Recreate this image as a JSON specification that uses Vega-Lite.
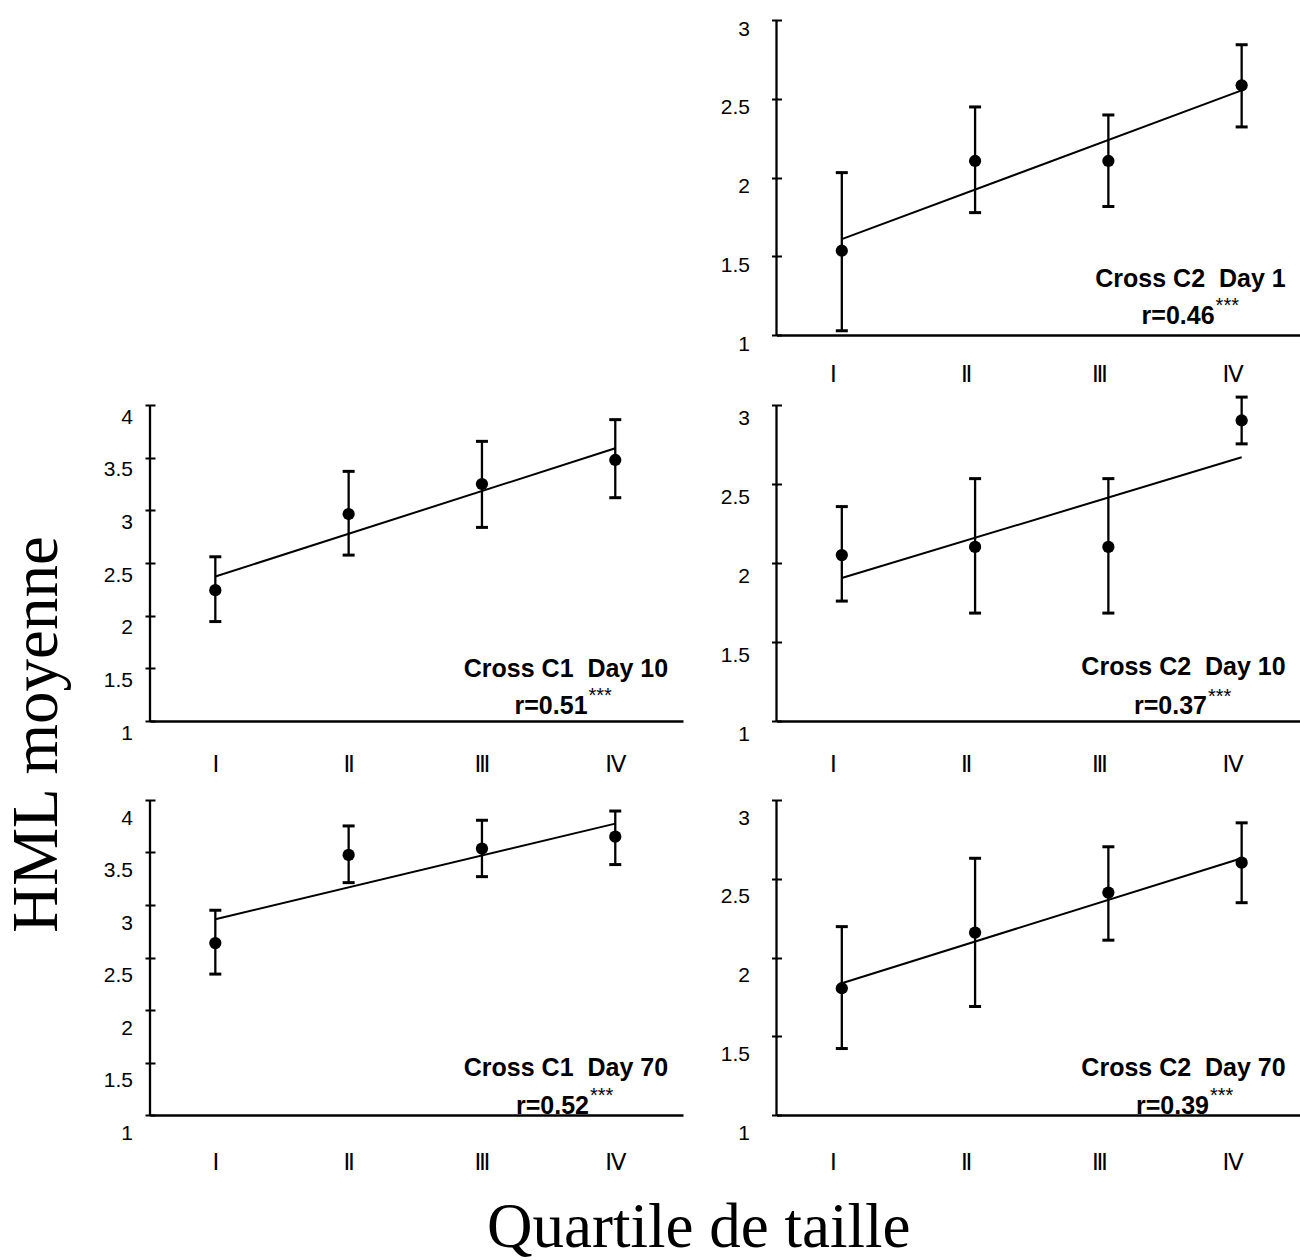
{
  "$schema": "https://vega.github.io/schema/vega-lite/v6.json",
  "padding": {"left": 4, "top": 18, "right": 0, "bottom": 0},
  "config": {
    "view": {"stroke": null},
    "font": "Liberation Sans",
    "axis": {"grid": false, "labelColor": "black", "domainColor": "black", "tickColor": "black"},
    "tick": {"opacity": 1}
  },
  "datasets": {
    "means": [
      {"panel": "C2 D1", "q": 1, "mean": 1.535, "lo": 1.027, "hi": 2.031, "fit": 1.609},
      {"panel": "C2 D1", "q": 2, "mean": 2.105, "lo": 1.777, "hi": 2.448, "fit": null},
      {"panel": "C2 D1", "q": 3, "mean": 2.105, "lo": 1.816, "hi": 2.397, "fit": null},
      {"panel": "C2 D1", "q": 4, "mean": 2.585, "lo": 2.321, "hi": 2.843, "fit": 2.553},
      {"panel": "C1 D10", "q": 1, "mean": 2.242, "lo": 1.944, "hi": 2.559, "fit": 2.372},
      {"panel": "C1 D10", "q": 2, "mean": 2.965, "lo": 2.575, "hi": 3.37, "fit": null},
      {"panel": "C1 D10", "q": 3, "mean": 3.25, "lo": 2.838, "hi": 3.655, "fit": null},
      {"panel": "C1 D10", "q": 4, "mean": 3.478, "lo": 3.12, "hi": 3.861, "fit": 3.589},
      {"panel": "C2 D10", "q": 1, "mean": 2.05, "lo": 1.759, "hi": 2.357, "fit": 1.905},
      {"panel": "C2 D10", "q": 2, "mean": 2.102, "lo": 1.683, "hi": 2.534, "fit": null},
      {"panel": "C2 D10", "q": 3, "mean": 2.102, "lo": 1.683, "hi": 2.534, "fit": null},
      {"panel": "C2 D10", "q": 4, "mean": 2.902, "lo": 2.754, "hi": 3.05, "fit": 2.669},
      {"panel": "C1 D70", "q": 1, "mean": 2.637, "lo": 2.342, "hi": 2.95, "fit": 2.865},
      {"panel": "C1 D70", "q": 2, "mean": 3.477, "lo": 3.213, "hi": 3.753, "fit": null},
      {"panel": "C1 D70", "q": 3, "mean": 3.537, "lo": 3.27, "hi": 3.807, "fit": null},
      {"panel": "C1 D70", "q": 4, "mean": 3.651, "lo": 3.385, "hi": 3.895, "fit": 3.775},
      {"panel": "C2 D70", "q": 1, "mean": 1.805, "lo": 1.422, "hi": 2.196, "fit": 1.837},
      {"panel": "C2 D70", "q": 2, "mean": 2.158, "lo": 1.689, "hi": 2.63, "fit": null},
      {"panel": "C2 D70", "q": 3, "mean": 2.412, "lo": 2.11, "hi": 2.703, "fit": null},
      {"panel": "C2 D70", "q": 4, "mean": 2.602, "lo": 2.348, "hi": 2.855, "fit": 2.63}
    ],
    "captions": [
      {"panel": "C2 D1", "caption": "Cross C2\u00a0 Day 1", "r": 0.46, "stars": "***", "ymin": 1, "ymax": 3},
      {"panel": "C1 D10", "caption": "Cross C1\u00a0 Day 10", "r": 0.51, "stars": "***", "ymin": 1, "ymax": 4},
      {"panel": "C2 D10", "caption": "Cross C2\u00a0 Day 10", "r": 0.37, "stars": "***", "ymin": 1, "ymax": 3},
      {"panel": "C1 D70", "caption": "Cross C1\u00a0 Day 70", "r": 0.52, "stars": "***", "ymin": 1, "ymax": 4},
      {"panel": "C2 D70", "caption": "Cross C2\u00a0 Day 70", "r": 0.39, "stars": "***", "ymin": 1, "ymax": 3}
    ]
  },
  "title": {"text": "Quartile de taille", "orient": "bottom", "anchor": "middle", "font": "Liberation Serif", "fontSize": 63, "fontWeight": "normal", "color": "black", "offset": 23, "dx": 47},
  "bounds": "flush",
  "columns": 2,
  "spacing": {"row": 70, "column": 93.5},
  "concat": [
    {"width": 533, "height": 315, "data": {"values": []}, "mark": {"type": "point", "opacity": 0}},
    {
      "width": 523, "height": 315,
      "layer": [
        {
          "data": {"name": "means"},
          "transform": [{"filter": "datum.panel === 'C2 D1'"}],
          "layer": [
            {"mark": {"type": "rule", "color": "black", "strokeWidth": 2.3},
             "encoding": {
               "x": {"field": "q", "type": "quantitative", "scale": {"domain": [0.51, 4.434], "nice": false, "zero": false},
                     "axis": {"values": [1, 2, 3, 4], "labelExpr": "['', 'Ⅰ', 'Ⅱ', 'Ⅲ', 'Ⅳ'][datum.value]", "title": null, "ticks": false, "domainWidth": 2.5, "labelPadding": 28, "labelOffset": -9, "labelFontSize": 23, "labelFont": "Liberation Sans, DejaVu Sans"}},
               "y": {"field": "lo", "type": "quantitative", "scale": {"domain": [1, 3], "nice": false, "zero": false},
                     "axis": {"values": [1, 1.5, 2, 2.5, 3], "format": "~g", "title": null, "domain": false, "ticks": true, "tickSize": 10, "tickWidth": 2, "offset": -5, "labelPadding": 22, "labelOffset": 9, "labelFontSize": 21}},
               "y2": {"field": "hi"}}},
            {"mark": {"type": "tick", "color": "black", "opacity": 1, "thickness": 3, "size": 12, "orient": "horizontal"},
             "encoding": {"x": {"field": "q", "type": "quantitative"}, "y": {"field": "hi", "type": "quantitative"}}},
            {"mark": {"type": "tick", "color": "black", "opacity": 1, "thickness": 3, "size": 12, "orient": "horizontal"},
             "encoding": {"x": {"field": "q", "type": "quantitative"}, "y": {"field": "lo", "type": "quantitative"}}},
            {"mark": {"type": "point", "filled": true, "color": "black", "opacity": 1, "size": 150},
             "encoding": {"x": {"field": "q", "type": "quantitative"}, "y": {"field": "mean", "type": "quantitative"}}},
            {"transform": [{"filter": "datum.fit != null"}],
             "mark": {"type": "line", "color": "black", "strokeWidth": 2},
             "encoding": {"x": {"field": "q", "type": "quantitative"}, "y": {"field": "fit", "type": "quantitative"}}}
          ]
        },
        {
          "data": {"name": "captions"},
          "transform": [{"filter": "datum.panel === 'C2 D1'"}, {"calculate": "'r=' + format(datum.r, '.2f')", "as": "rlabel"}],
          "layer": [
            {"mark": {"type": "rule", "color": "black", "strokeWidth": 2.3},
             "encoding": {"x": {"datum": 0.51, "type": "quantitative"}, "y": {"field": "ymin", "type": "quantitative"}, "y2": {"field": "ymax"}}},
            {"mark": {"type": "text", "align": "right", "baseline": "middle", "fontSize": 25, "fontWeight": "bold", "color": "black"},
             "encoding": {"x": {"datum": 4.33, "type": "quantitative"}, "y": {"datum": 1.357, "type": "quantitative"}, "text": {"field": "caption"}}},
            {"mark": {"type": "text", "align": "right", "baseline": "middle", "fontSize": 25, "fontWeight": "bold", "color": "black"},
             "encoding": {"x": {"datum": 3.797, "type": "quantitative"}, "y": {"datum": 1.122, "type": "quantitative"}, "text": {"field": "rlabel"}}},
            {"mark": {"type": "text", "align": "left", "baseline": "alphabetic", "dx": 1, "fontSize": 20, "color": "black"},
             "encoding": {"x": {"datum": 3.797, "type": "quantitative"}, "y": {"datum": 1.145, "type": "quantitative"}, "text": {"field": "stars"}}}
          ]
        }
      ]
    },
    {
      "width": 533, "height": 316,
      "layer": [
        {
          "data": {"name": "means"},
          "transform": [{"filter": "datum.panel === 'C1 D10'"}],
          "layer": [
            {"mark": {"type": "rule", "color": "black", "strokeWidth": 2.3},
             "encoding": {
               "x": {"field": "q", "type": "quantitative", "scale": {"domain": [0.51, 4.508], "nice": false, "zero": false},
                     "axis": {"values": [1, 2, 3, 4], "labelExpr": "['', 'Ⅰ', 'Ⅱ', 'Ⅲ', 'Ⅳ'][datum.value]", "title": null, "ticks": false, "domainWidth": 2.5, "labelPadding": 32, "labelFontSize": 23, "labelFont": "Liberation Sans, DejaVu Sans"}},
               "y": {"field": "lo", "type": "quantitative", "scale": {"domain": [1, 4], "nice": false, "zero": false},
                     "axis": {"values": [1, 1.5, 2, 2.5, 3, 3.5, 4], "format": "~g", "domain": false, "ticks": true, "tickSize": 10, "tickWidth": 2, "offset": -5, "labelPadding": 12.5, "labelOffset": 12, "labelFontSize": 21,
                              "title": "HML moyenne", "titleFont": "Liberation Serif", "titleFontSize": 65, "titleFontWeight": "normal", "titleColor": "black", "titleAngle": 270, "titleAlign": "center", "titleBaseline": "alphabetic", "titleX": -99, "titleY": 329}},
               "y2": {"field": "hi"}}},
            {"mark": {"type": "tick", "color": "black", "opacity": 1, "thickness": 3, "size": 12, "orient": "horizontal"},
             "encoding": {"x": {"field": "q", "type": "quantitative"}, "y": {"field": "hi", "type": "quantitative"}}},
            {"mark": {"type": "tick", "color": "black", "opacity": 1, "thickness": 3, "size": 12, "orient": "horizontal"},
             "encoding": {"x": {"field": "q", "type": "quantitative"}, "y": {"field": "lo", "type": "quantitative"}}},
            {"mark": {"type": "point", "filled": true, "color": "black", "opacity": 1, "size": 150},
             "encoding": {"x": {"field": "q", "type": "quantitative"}, "y": {"field": "mean", "type": "quantitative"}}},
            {"transform": [{"filter": "datum.fit != null"}],
             "mark": {"type": "line", "color": "black", "strokeWidth": 2},
             "encoding": {"x": {"field": "q", "type": "quantitative"}, "y": {"field": "fit", "type": "quantitative"}}}
          ]
        },
        {
          "data": {"name": "captions"},
          "transform": [{"filter": "datum.panel === 'C1 D10'"}, {"calculate": "'r=' + format(datum.r, '.2f')", "as": "rlabel"}],
          "layer": [
            {"mark": {"type": "rule", "color": "black", "strokeWidth": 2.3},
             "encoding": {"x": {"datum": 0.51, "type": "quantitative"}, "y": {"field": "ymin", "type": "quantitative"}, "y2": {"field": "ymax"}}},
            {"mark": {"type": "text", "align": "right", "baseline": "middle", "fontSize": 25, "fontWeight": "bold", "color": "black"},
             "encoding": {"x": {"datum": 4.396, "type": "quantitative"}, "y": {"datum": 1.497, "type": "quantitative"}, "text": {"field": "caption"}}},
            {"mark": {"type": "text", "align": "right", "baseline": "middle", "fontSize": 25, "fontWeight": "bold", "color": "black"},
             "encoding": {"x": {"datum": 3.792, "type": "quantitative"}, "y": {"datum": 1.142, "type": "quantitative"}, "text": {"field": "rlabel"}}},
            {"mark": {"type": "text", "align": "left", "baseline": "alphabetic", "dx": 1, "fontSize": 20, "color": "black"},
             "encoding": {"x": {"datum": 3.792, "type": "quantitative"}, "y": {"datum": 1.176, "type": "quantitative"}, "text": {"field": "stars"}}}
          ]
        }
      ]
    },
    {
      "width": 523, "height": 316,
      "layer": [
        {
          "data": {"name": "means"},
          "transform": [{"filter": "datum.panel === 'C2 D10'"}],
          "layer": [
            {"mark": {"type": "rule", "color": "black", "strokeWidth": 2.3},
             "encoding": {
               "x": {"field": "q", "type": "quantitative", "scale": {"domain": [0.51, 4.434], "nice": false, "zero": false},
                     "axis": {"values": [1, 2, 3, 4], "labelExpr": "['', 'Ⅰ', 'Ⅱ', 'Ⅲ', 'Ⅳ'][datum.value]", "title": null, "ticks": false, "domainWidth": 2.5, "labelPadding": 32, "labelOffset": -9, "labelFontSize": 23, "labelFont": "Liberation Sans, DejaVu Sans"}},
               "y": {"field": "lo", "type": "quantitative", "scale": {"domain": [1, 3], "nice": false, "zero": false},
                     "axis": {"values": [1, 1.5, 2, 2.5, 3], "format": "~g", "title": null, "domain": false, "ticks": true, "tickSize": 10, "tickWidth": 2, "offset": -5, "labelPadding": 22, "labelOffset": 13, "labelFontSize": 21}},
               "y2": {"field": "hi"}}},
            {"mark": {"type": "tick", "color": "black", "opacity": 1, "thickness": 3, "size": 12, "orient": "horizontal"},
             "encoding": {"x": {"field": "q", "type": "quantitative"}, "y": {"field": "hi", "type": "quantitative"}}},
            {"mark": {"type": "tick", "color": "black", "opacity": 1, "thickness": 3, "size": 12, "orient": "horizontal"},
             "encoding": {"x": {"field": "q", "type": "quantitative"}, "y": {"field": "lo", "type": "quantitative"}}},
            {"mark": {"type": "point", "filled": true, "color": "black", "opacity": 1, "size": 150},
             "encoding": {"x": {"field": "q", "type": "quantitative"}, "y": {"field": "mean", "type": "quantitative"}}},
            {"transform": [{"filter": "datum.fit != null"}],
             "mark": {"type": "line", "color": "black", "strokeWidth": 2},
             "encoding": {"x": {"field": "q", "type": "quantitative"}, "y": {"field": "fit", "type": "quantitative"}}}
          ]
        },
        {
          "data": {"name": "captions"},
          "transform": [{"filter": "datum.panel === 'C2 D10'"}, {"calculate": "'r=' + format(datum.r, '.2f')", "as": "rlabel"}],
          "layer": [
            {"mark": {"type": "rule", "color": "black", "strokeWidth": 2.3},
             "encoding": {"x": {"datum": 0.51, "type": "quantitative"}, "y": {"field": "ymin", "type": "quantitative"}, "y2": {"field": "ymax"}}},
            {"mark": {"type": "text", "align": "right", "baseline": "middle", "fontSize": 25, "fontWeight": "bold", "color": "black"},
             "encoding": {"x": {"datum": 4.33, "type": "quantitative"}, "y": {"datum": 1.339, "type": "quantitative"}, "text": {"field": "caption"}}},
            {"mark": {"type": "text", "align": "right", "baseline": "middle", "fontSize": 25, "fontWeight": "bold", "color": "black"},
             "encoding": {"x": {"datum": 3.74, "type": "quantitative"}, "y": {"datum": 1.095, "type": "quantitative"}, "text": {"field": "rlabel"}}},
            {"mark": {"type": "text", "align": "left", "baseline": "alphabetic", "dx": 1, "fontSize": 20, "color": "black"},
             "encoding": {"x": {"datum": 3.74, "type": "quantitative"}, "y": {"datum": 1.117, "type": "quantitative"}, "text": {"field": "stars"}}}
          ]
        }
      ]
    },
    {
      "width": 533, "height": 324,
      "layer": [
        {
          "data": {"name": "means"},
          "transform": [{"filter": "datum.panel === 'C1 D70'"}],
          "layer": [
            {"mark": {"type": "rule", "color": "black", "strokeWidth": 2.3},
             "encoding": {
               "x": {"field": "q", "type": "quantitative", "scale": {"domain": [0.51, 4.508], "nice": false, "zero": false},
                     "axis": {"values": [1, 2, 3, 4], "labelExpr": "['', 'Ⅰ', 'Ⅱ', 'Ⅲ', 'Ⅳ'][datum.value]", "title": null, "ticks": false, "domainWidth": 2.5, "labelPadding": 36, "labelFontSize": 23, "labelFont": "Liberation Sans, DejaVu Sans"}},
               "y": {"field": "lo", "type": "quantitative", "scale": {"domain": [1, 4], "range": [324, 9], "nice": false, "zero": false},
                     "axis": {"values": [1, 1.5, 2, 2.5, 3, 3.5, 4], "format": "~g", "title": null, "domain": false, "ticks": true, "tickSize": 10, "tickWidth": 2, "offset": -5, "labelPadding": 12.5, "labelOffset": 18, "labelFontSize": 21}},
               "y2": {"field": "hi"}}},
            {"mark": {"type": "tick", "color": "black", "opacity": 1, "thickness": 3, "size": 12, "orient": "horizontal"},
             "encoding": {"x": {"field": "q", "type": "quantitative"}, "y": {"field": "hi", "type": "quantitative"}}},
            {"mark": {"type": "tick", "color": "black", "opacity": 1, "thickness": 3, "size": 12, "orient": "horizontal"},
             "encoding": {"x": {"field": "q", "type": "quantitative"}, "y": {"field": "lo", "type": "quantitative"}}},
            {"mark": {"type": "point", "filled": true, "color": "black", "opacity": 1, "size": 150},
             "encoding": {"x": {"field": "q", "type": "quantitative"}, "y": {"field": "mean", "type": "quantitative"}}},
            {"transform": [{"filter": "datum.fit != null"}],
             "mark": {"type": "line", "color": "black", "strokeWidth": 2},
             "encoding": {"x": {"field": "q", "type": "quantitative"}, "y": {"field": "fit", "type": "quantitative"}}}
          ]
        },
        {
          "data": {"name": "captions"},
          "transform": [{"filter": "datum.panel === 'C1 D70'"}, {"calculate": "'r=' + format(datum.r, '.2f')", "as": "rlabel"}],
          "layer": [
            {"mark": {"type": "rule", "color": "black", "strokeWidth": 2.3},
             "encoding": {"x": {"datum": 0.51, "type": "quantitative"}, "y": {"field": "ymin", "type": "quantitative"}, "y2": {"field": "ymax"}}},
            {"mark": {"type": "text", "align": "right", "baseline": "middle", "fontSize": 25, "fontWeight": "bold", "color": "black"},
             "encoding": {"x": {"datum": 4.396, "type": "quantitative"}, "y": {"datum": 1.45, "type": "quantitative"}, "text": {"field": "caption"}}},
            {"mark": {"type": "text", "align": "right", "baseline": "middle", "fontSize": 25, "fontWeight": "bold", "color": "black"},
             "encoding": {"x": {"datum": 3.803, "type": "quantitative"}, "y": {"datum": 1.089, "type": "quantitative"}, "text": {"field": "rlabel"}}},
            {"mark": {"type": "text", "align": "left", "baseline": "alphabetic", "dx": 1, "fontSize": 20, "color": "black"},
             "encoding": {"x": {"datum": 3.803, "type": "quantitative"}, "y": {"datum": 1.122, "type": "quantitative"}, "text": {"field": "stars"}}}
          ]
        }
      ]
    },
    {
      "width": 523, "height": 324,
      "layer": [
        {
          "data": {"name": "means"},
          "transform": [{"filter": "datum.panel === 'C2 D70'"}],
          "layer": [
            {"mark": {"type": "rule", "color": "black", "strokeWidth": 2.3},
             "encoding": {
               "x": {"field": "q", "type": "quantitative", "scale": {"domain": [0.51, 4.434], "nice": false, "zero": false},
                     "axis": {"values": [1, 2, 3, 4], "labelExpr": "['', 'Ⅰ', 'Ⅱ', 'Ⅲ', 'Ⅳ'][datum.value]", "title": null, "ticks": false, "domainWidth": 2.5, "labelPadding": 36, "labelOffset": -9, "labelFontSize": 23, "labelFont": "Liberation Sans, DejaVu Sans"}},
               "y": {"field": "lo", "type": "quantitative", "scale": {"domain": [1, 3], "range": [324, 9], "nice": false, "zero": false},
                     "axis": {"values": [1, 1.5, 2, 2.5, 3], "format": "~g", "title": null, "domain": false, "ticks": true, "tickSize": 10, "tickWidth": 2, "offset": -5, "labelPadding": 22, "labelOffset": 18, "labelFontSize": 21}},
               "y2": {"field": "hi"}}},
            {"mark": {"type": "tick", "color": "black", "opacity": 1, "thickness": 3, "size": 12, "orient": "horizontal"},
             "encoding": {"x": {"field": "q", "type": "quantitative"}, "y": {"field": "hi", "type": "quantitative"}}},
            {"mark": {"type": "tick", "color": "black", "opacity": 1, "thickness": 3, "size": 12, "orient": "horizontal"},
             "encoding": {"x": {"field": "q", "type": "quantitative"}, "y": {"field": "lo", "type": "quantitative"}}},
            {"mark": {"type": "point", "filled": true, "color": "black", "opacity": 1, "size": 150},
             "encoding": {"x": {"field": "q", "type": "quantitative"}, "y": {"field": "mean", "type": "quantitative"}}},
            {"transform": [{"filter": "datum.fit != null"}],
             "mark": {"type": "line", "color": "black", "strokeWidth": 2},
             "encoding": {"x": {"field": "q", "type": "quantitative"}, "y": {"field": "fit", "type": "quantitative"}}}
          ]
        },
        {
          "data": {"name": "captions"},
          "transform": [{"filter": "datum.panel === 'C2 D70'"}, {"calculate": "'r=' + format(datum.r, '.2f')", "as": "rlabel"}],
          "layer": [
            {"mark": {"type": "rule", "color": "black", "strokeWidth": 2.3},
             "encoding": {"x": {"datum": 0.51, "type": "quantitative"}, "y": {"field": "ymin", "type": "quantitative"}, "y2": {"field": "ymax"}}},
            {"mark": {"type": "text", "align": "right", "baseline": "middle", "fontSize": 25, "fontWeight": "bold", "color": "black"},
             "encoding": {"x": {"datum": 4.33, "type": "quantitative"}, "y": {"datum": 1.3, "type": "quantitative"}, "text": {"field": "caption"}}},
            {"mark": {"type": "text", "align": "right", "baseline": "middle", "fontSize": 25, "fontWeight": "bold", "color": "black"},
             "encoding": {"x": {"datum": 3.755, "type": "quantitative"}, "y": {"datum": 1.059, "type": "quantitative"}, "text": {"field": "rlabel"}}},
            {"mark": {"type": "text", "align": "left", "baseline": "alphabetic", "dx": 1, "fontSize": 20, "color": "black"},
             "encoding": {"x": {"datum": 3.755, "type": "quantitative"}, "y": {"datum": 1.081, "type": "quantitative"}, "text": {"field": "stars"}}}
          ]
        }
      ]
    }
  ]
}
